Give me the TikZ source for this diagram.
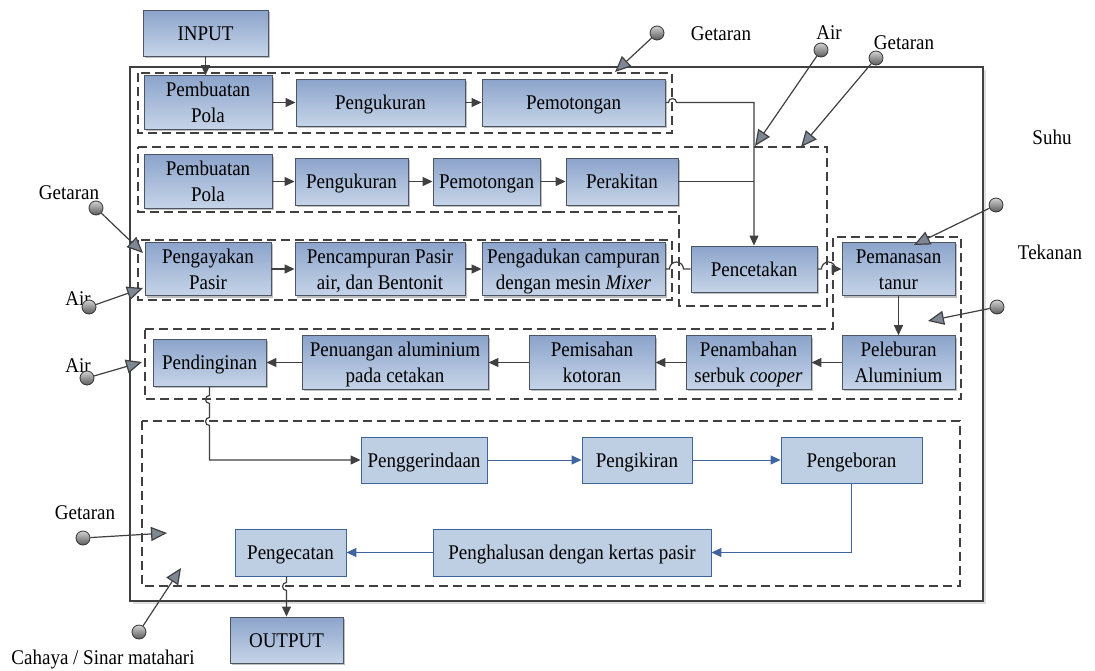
\documentclass[tikz,border=0pt]{standalone}
\usepackage{fontspec}
\usepackage{graphicx}
\setmainfont{Liberation Serif}
\usetikzlibrary{arrows.meta,shadows}
\definecolor{boxtop}{HTML}{8CA4CB}
\definecolor{boxbot}{HTML}{C6D4E8}
\definecolor{boxdraw}{HTML}{4B5563}
\definecolor{lightfill}{HTML}{BFCFE3}
\definecolor{bluedraw}{HTML}{3F64A0}
\definecolor{lineg}{HTML}{404040}
\definecolor{pinfill}{HTML}{7E8794}
\newcommand\bfs{\fontsize{19}{23.5}\selectfont}
\newcommand\vs[1]{\raisebox{-2pt}[\height][\depth]{\scalebox{1}[1.1]{\begin{tabular}{@{}c@{}}#1\end{tabular}}}}
\begin{document}
\begin{tikzpicture}[x=1pt,y=1pt,
 pbox/.style={draw=boxdraw, line width=0.9pt, top color=boxtop, bottom color=boxbot, align=center, inner sep=1pt, font=\bfs, drop shadow={shadow xshift=2pt,shadow yshift=-2pt,opacity=0.25,fill=black}},
 lbox/.style={draw=bluedraw, line width=0.9pt, fill=lightfill, align=center, inner sep=1pt, font=\bfs},
 grp/.style={draw=lineg, line width=1.3pt, dash pattern=on 9pt off 5pt},
 conn/.style={draw=lineg, line width=1.2pt, -{Triangle[length=10pt,width=9pt]}},
 cline/.style={draw=lineg, line width=1.2pt},
 bconn/.style={draw=bluedraw, line width=1pt, -{Triangle[length=10pt,width=9pt]}},
 pinc/.style={circle, minimum size=14pt, inner sep=0pt, draw=black!80, line width=0.8pt, top color=gray!35, bottom color=black!65},
 pinl/.style={draw=lineg, line width=1.2pt, -{Triangle[length=16pt,width=14pt,fill=pinfill]}},
 lbl/.style={font=\bfs, inner sep=0pt},
]
\useasboundingbox (0,0) rectangle (1095,-670);
% outer frame
\fill[gray!25] (133,-70) rectangle (986,-604);
\draw[lineg, line width=2pt, fill=white] (130,-67) rectangle (983,-601);
% dashed groups
\draw[grp] (138,-73) rectangle (672,-133);
\draw[grp] (138,-147) -- (827,-147) -- (827,-306) -- (679,-306) -- (679,-212) -- (138,-212) -- cycle;
\draw[grp] (138,-240) rectangle (672,-300);
\draw[grp] (145,-329) -- (833,-329) -- (833,-237) -- (961,-237) -- (961,-399) -- (145,-399) -- cycle;
\draw[grp] (142,-421) rectangle (960,-586);
% boxes
\node[pbox, minimum width=125, minimum height=46] (inp) at (205.5,-33) {\vs{INPUT}};
\node[pbox, minimum width=128, minimum height=47] (r1a) at (208,-102.5) {\vs{Pembuatan\\Pola}};
\node[pbox, minimum width=169, minimum height=47] (r1b) at (380.5,-102.5) {\vs{Pengukuran}};
\node[pbox, minimum width=183, minimum height=47] (r1c) at (573.5,-102.5) {\vs{Pemotongan}};
\node[pbox, minimum width=128, minimum height=47] (r2a) at (208,-181.5) {\vs{Pembuatan\\Pola}};
\node[pbox, minimum width=113, minimum height=47] (r2b) at (351.5,-181.5) {\vs{Pengukuran}};
\node[pbox, minimum width=107, minimum height=47] (r2c) at (486.5,-181.5) {\vs{Pemotongan}};
\node[pbox, minimum width=112, minimum height=47] (r2d) at (622,-181.5) {\vs{Perakitan}};
\node[pbox, minimum width=126, minimum height=46] (r3a) at (208,-269) {\vs{Pengayakan\\Pasir}};
\node[pbox, minimum width=170, minimum height=46] (r3b) at (380,-269) {\vs{Pencampuran Pasir\\air, dan Bentonit}};
\node[pbox, minimum width=183, minimum height=46] (r3c) at (573.5,-269) {\vs{Pengadukan campuran\\dengan mesin \textit{Mixer}}};
\node[pbox, minimum width=126, minimum height=46] (pc) at (754,-269) {\vs{Pencetakan}};
\node[pbox, minimum width=113, minimum height=46] (pt) at (898.5,-269) {\vs{Pemanasan\\tanur}};
\node[pbox, minimum width=113, minimum height=47] (r4a) at (209.5,-362.5) {\vs{Pendinginan}};
\node[pbox, minimum width=186, minimum height=47] (r4b) at (395,-362.5) {\vs{Penuangan aluminium\\pada cetakan}};
\node[pbox, minimum width=126, minimum height=47] (r4c) at (592,-362.5) {\vs{Pemisahan\\kotoran}};
\node[pbox, minimum width=125, minimum height=47] (r4d) at (748.5,-362.5) {\vs{Penambahan\\serbuk \textit{cooper}}};
\node[pbox, minimum width=113, minimum height=47] (r4e) at (898.5,-362.5) {\vs{Peleburan\\Aluminium}};
\node[lbox, minimum width=126, minimum height=46] (r5a) at (424,-460) {\vs{Penggerindaan}};
\node[lbox, minimum width=110, minimum height=46] (r5b) at (637,-460) {\vs{Pengikiran}};
\node[lbox, minimum width=141, minimum height=46] (r5c) at (851.5,-460) {\vs{Pengeboran}};
\node[lbox, minimum width=278, minimum height=47] (r6a) at (572,-552.5) {\vs{Penghalusan dengan kertas pasir}};
\node[lbox, minimum width=111, minimum height=47] (r6b) at (290.5,-552.5) {\vs{Pengecatan}};
\node[pbox, minimum width=113, minimum height=46] (out) at (286.5,-640) {\vs{OUTPUT}};
% connectors
\draw[conn] (inp.south) -- (r1a.north -| inp.south);
\draw[conn] (r1a.east) -- (r1b.west);
\draw[conn] (r1b.east) -- (r1c.west);
\draw[conn] (r1c.east) -- ++(3,0) arc[start angle=180,end angle=0,radius=4] -- (r1c.east -| pc.north) -- (pc.north);
\draw[conn] (r2a.east) -- (r2b.west);
\draw[conn] (r2b.east) -- (r2c.west);
\draw[conn] (r2c.east) -- (r2d.west);
\draw[cline] (r2d.east) -- (r2d.east -| pc.north);
\draw[conn] (r3a.east) -- (r3b.west);
\draw[conn] (r3b.east) -- (r3c.west);
\draw[cline] (r3c.east) -- ++(4,0) arc[start angle=180,end angle=0,radius=7] -- (pc.west);
\draw[conn] (pc.east) -- ++(4,0) arc[start angle=180,end angle=0,radius=7] -- (pt.west);
\draw[conn] (pt.south) -- (r4e.north);
\draw[conn] (r4e.west) -- (r4d.east);
\draw[conn] (r4d.west) -- (r4c.east);
\draw[conn] (r4c.west) -- (r4b.east);
\draw[conn] (r4b.west) -- (r4a.east);
\draw[conn] (r4a.south) -- ++(0,-9) arc[start angle=90,end angle=270,radius=4] -- ++(0,-14) arc[start angle=90,end angle=270,radius=4] -- (r4a.south |- r5a.west) -- (r5a.west);
\draw[bconn] (r5a.east) -- (r5b.west);
\draw[bconn] (r5b.east) -- (r5c.west);
\draw[bconn] (r5c.south) -- (r5c.south |- r6a.east) -- (r6a.east);
\draw[bconn] (r6a.west) -- (r6b.east);
\draw[conn] (out.north |- r6b.south) -- ++(0,-6) arc[start angle=90,end angle=270,radius=4] -- (out.north);
% environment labels
\node[lbl] (l1) at (721,-33) {\vs{Getaran}};
\node[lbl] (l2) at (829,-32) {\vs{Air}};
\node[lbl] (l3) at (904,-42) {\vs{Getaran}};
\node[lbl] (l4) at (1052,-137) {\vs{Suhu}};
\node[lbl] (l5) at (1050,-252) {\vs{Tekanan}};
\node[lbl] (l6) at (69,-192) {\vs{Getaran}};
\node[lbl] (l7) at (78,-298) {\vs{Air}};
\node[lbl] (l8) at (78,-365) {\vs{Air}};
\node[lbl] (l9) at (85,-512) {\vs{Getaran}};
\node[lbl] (l10) at (103,-657) {\vs{Cahaya / Sinar matahari}};
% pins
\node[pinc] (c1) at (657,-33) {};
\node[pinc] (c2) at (821,-50) {};
\node[pinc] (c3) at (876,-58) {};
\node[pinc] (c4) at (996,-205) {};
\node[pinc] (c5) at (997,-307) {};
\node[pinc] (c6) at (96,-208) {};
\node[pinc] (c7) at (89,-307) {};
\node[pinc] (c8) at (87,-378) {};
\node[pinc] (c9) at (83,-538) {};
\node[pinc] (c10) at (139,-632) {};
\coordinate (t1) at (615,-72);
\coordinate (t2) at (755,-146);
\coordinate (t3) at (801,-147);
\coordinate (t4) at (914,-245);
\coordinate (t5) at (928,-321);
\coordinate (t6) at (143,-253);
\coordinate (t7) at (143,-288);
\coordinate (t8) at (142,-362);
\coordinate (t9) at (167,-533);
\coordinate (t10) at (181,-568);
\foreach \i in {1,...,10} {\draw[pinl] (c\i) -- (t\i);}
\end{tikzpicture}
\end{document}
